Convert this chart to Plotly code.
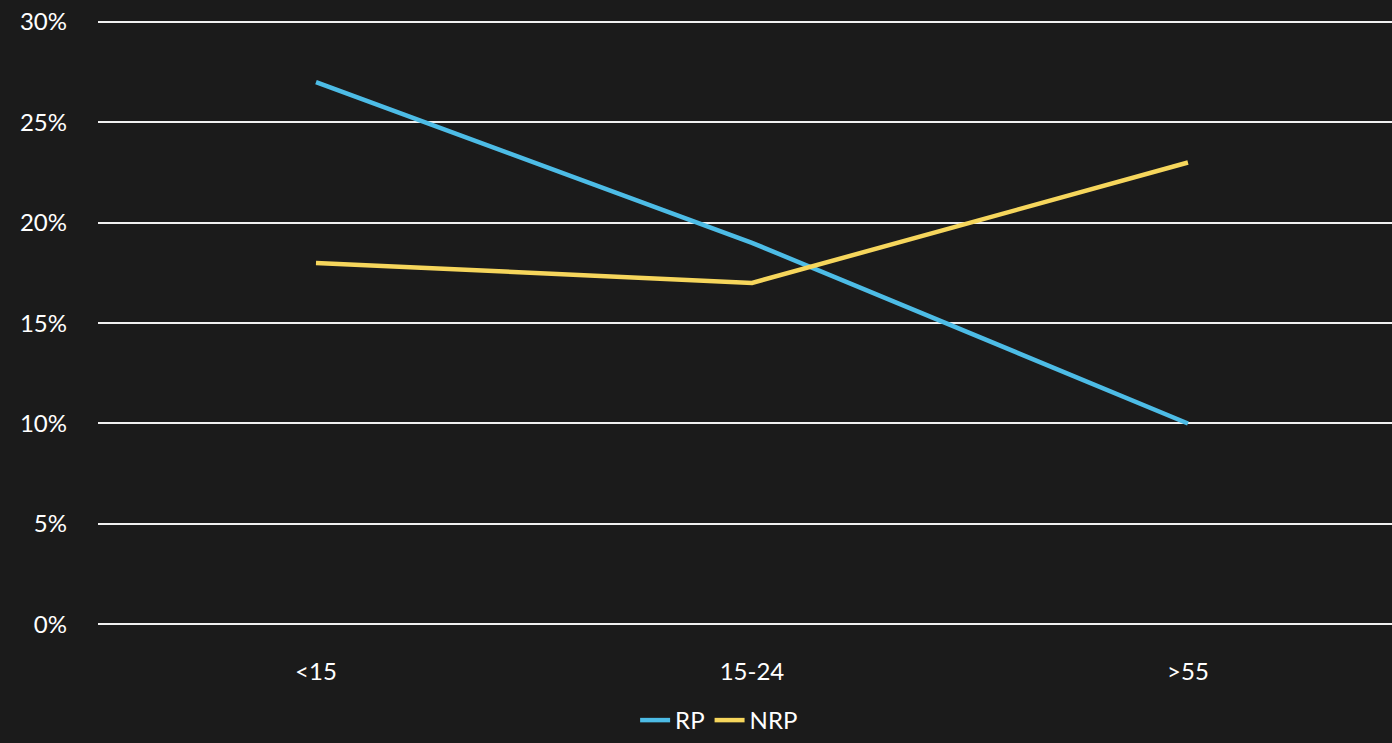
import plotly.graph_objects as go

categories = ["<15", "15-24", ">55"]
rp_values = [0.27, 0.19, 0.10]
nrp_values = [0.18, 0.17, 0.23]
y_ticks = [0, 0.05, 0.10, 0.15, 0.20, 0.25, 0.30]
y_tick_labels = ["0%", "5%", "10%", "15%", "20%", "25%", "30%"]

W, H = 1392, 743
ML, MR, MT, MB = 98, 0, 19, 116
plot_h = H - MT - MB

fig = go.Figure()
fig.add_trace(go.Scatter(x=categories, y=rp_values, mode="lines", name="RP",
                         line=dict(color="#4dbce6", width=4.5)))
fig.add_trace(go.Scatter(x=categories, y=nrp_values, mode="lines", name="NRP",
                         line=dict(color="#f6d65c", width=4.5)))

fig.update_layout(
    width=W, height=H,
    margin=dict(l=ML, r=MR, t=MT, b=MB, pad=0),
    paper_bgcolor="#1b1b1b",
    plot_bgcolor="#1b1b1b",
    font=dict(family="Lato, Noto Sans, sans-serif", color="white", size=24),
    showlegend=True,
    legend=dict(orientation="h", x=0.48, xanchor="center",
                y=(MT + plot_h - 723) / plot_h, yanchor="middle",
                font=dict(size=24, color="white"), bgcolor="rgba(0,0,0,0)",
                itemwidth=30, traceorder="normal"),
    xaxis=dict(type="category", range=[-0.5, 2.468], showgrid=False,
               zeroline=False, showline=False, ticks="",
               ticklabelstandoff=30, tickfont=dict(size=24, color="white")),
    yaxis=dict(range=[-0.0004, 0.3015], tickvals=y_ticks, ticktext=y_tick_labels,
               showgrid=True, gridcolor="#f0f0f0", gridwidth=1.6,
               zeroline=True, zerolinecolor="#f0f0f0", zerolinewidth=1.6,
               showline=False, ticks="",
               ticklabelstandoff=30, tickfont=dict(size=24, color="white")),
)

fig.write_html("out.html")
